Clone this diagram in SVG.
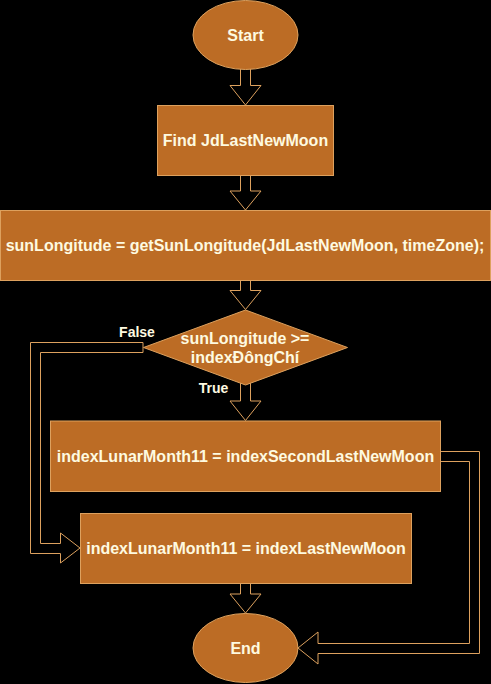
<svg xmlns="http://www.w3.org/2000/svg" width="491" height="684" viewBox="0 0 491 684">
<style>
.shape{fill:#BC6C25;stroke:#DDA15E;stroke-width:1}
.arrow{fill:#000;stroke:#DDA15E;stroke-width:1;stroke-linejoin:miter}
.t{font-family:"Liberation Sans",Arial,Helvetica,sans-serif;font-weight:bold;font-size:16px;fill:#FEFAE0;text-anchor:middle}
.lbl{font-family:"Liberation Sans",Arial,Helvetica,sans-serif;font-weight:bold;font-size:14px;fill:#FEFAE0;text-anchor:middle}
</style>
<rect x="0" y="0" width="491" height="684" fill="#000"/>
<g id="connectors">
<path class="arrow" d="M240.5,68 V85.5 H230 L245.5,105 L261,85.5 H250.5 V68 Z"/>
<path class="arrow" d="M240.5,175.5 V191 H230 L245.5,210 L261,191 H250.5 V175.5 Z"/>
<path class="arrow" d="M240.5,280.5 V290.5 H230 L245.5,309.5 L261,290.5 H250.5 V280.5 Z"/>
<path class="arrow" d="M240.5,383 V401 H230 L245.5,420.5 L261,401 H250.5 V383 Z"/>
<path class="arrow" d="M240.5,583.5 V594 H230 L245.5,613 L261,594 H250.5 V583.5 Z"/>
<path class="arrow" d="M143,342.5 H30.5 V553.5 H60.5 V563 L80,548 L60.5,533 V543.5 H40.5 V352.5 H143 Z"/>
<path class="arrow" d="M440.5,451.5 H479.5 V653.5 H318 V664 L298,648 L318,632 V643.5 H469.5 V461.5 H440.5 Z"/>
<text class="lbl" x="137" y="337">False</text>
<text class="lbl" x="213.5" y="393">True</text>
</g>
<g id="start">
<ellipse class="shape" cx="245.5" cy="35" rx="52.5" ry="34.5"/>
<text class="t" x="245.5" y="41">Start</text>
</g>
<g id="findJd">
<rect class="shape" x="157.5" y="105.5" width="176" height="70"/>
<text class="t" x="245.5" y="146">Find JdLastNewMoon</text>
</g>
<g id="sunLongitude">
<rect class="shape" x="0.5" y="210.5" width="490" height="70"/>
<text class="t" x="245" y="251">sunLongitude = getSunLongitude(JdLastNewMoon, timeZone);</text>
</g>
<g id="decision">
<polygon class="shape" points="245.5,310 347.5,347.5 245.5,385 143.5,347.5"/>
<text class="t" x="245" y="344">sunLongitude &gt;=</text>
<text class="t" x="245" y="363">indexĐôngChí</text>
</g>
<g id="month11Second">
<rect class="shape" x="50.5" y="421" width="390" height="70.5"/>
<text class="t" x="245.5" y="462">indexLunarMonth11 = indexSecondLastNewMoon</text>
</g>
<g id="month11Last">
<rect class="shape" x="80.5" y="513.5" width="331" height="70"/>
<text class="t" x="246" y="554">indexLunarMonth11 = indexLastNewMoon</text>
</g>
<g id="end">
<ellipse class="shape" cx="245.5" cy="648" rx="52.5" ry="34.5"/>
<text class="t" x="245.5" y="654">End</text>
</g>
</svg>
